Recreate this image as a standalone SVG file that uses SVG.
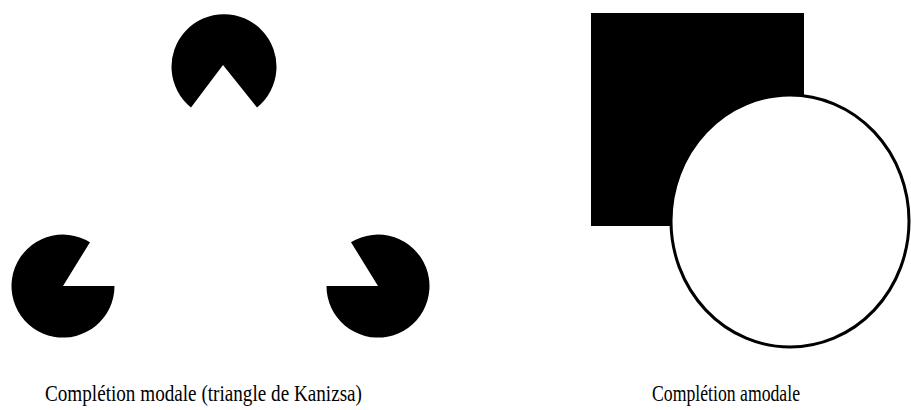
<svg xmlns="http://www.w3.org/2000/svg" width="911" height="410" viewBox="0 0 911 410">
<style>
.pac{fill:#000;stroke:none}
.lbl{font-family:"Liberation Serif","Times New Roman",serif;font-size:24px;fill:#000}
</style>
<rect width="911" height="410" fill="#fff"/>
<g id="pac-top"><path class="pac" d="M223,65 L191,107.5 A52.5,52.5 0 1 1 257,107.5 Z"/></g>
<g id="pac-left"><path class="pac" d="M63,286 L114.5,286 A51.5,51.5 0 1 1 90,242.2 Z"/></g>
<g id="pac-right"><path class="pac" d="M378,286 L326.5,286 A51.5,51.5 0 1 0 351,242.2 Z"/></g>
<g id="square"><rect x="591" y="13" width="213" height="213" fill="#000"/></g>
<g id="circle"><ellipse cx="790" cy="221" rx="119" ry="126" fill="#fff" stroke="#000" stroke-width="3"/></g>
<g id="labels">
<text class="lbl" x="45" y="401" textLength="317" lengthAdjust="spacingAndGlyphs">Complétion modale (triangle de Kanizsa)</text>
<text class="lbl" x="652" y="401" textLength="148" lengthAdjust="spacingAndGlyphs">Complétion amodale</text>
</g>
</svg>
